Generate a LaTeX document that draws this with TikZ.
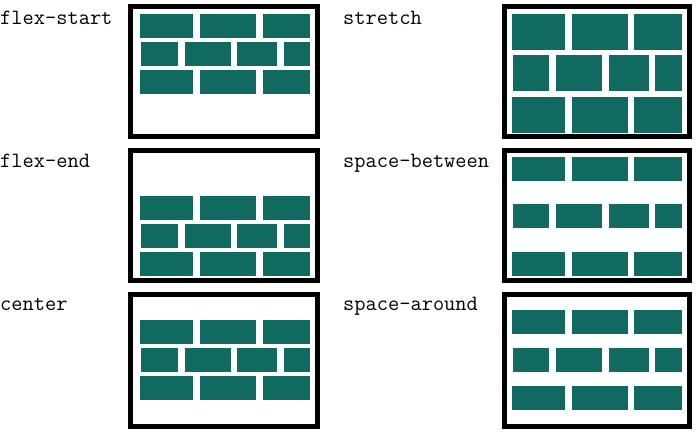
\documentclass[tikz,border=0pt]{standalone}
\usepackage{fontspec}
\definecolor{teal1}{RGB}{16,106,96}
\tikzset{
  brick/.style={fill=teal1},
  frame/.style={draw=black,line width=5pt},
  lbl/.style={anchor=base west,inner sep=0pt,font=\ttfamily\fontsize{21.8}{22}\selectfont}
}
\newcommand\rowL[3]{% y1 y2 type
  \ifnum#3=1
    \foreach \a/\b in {140/193,200/256,263/310} \fill[brick] (\a,#1) rectangle (\b,#2);
  \else
    \foreach \a/\b in {141/178,185/231,237/277,284/310} \fill[brick] (\a,#1) rectangle (\b,#2);
  \fi}
\newcommand\rowR[3]{%
  \ifnum#3=1
    \foreach \a/\b in {512/565,572/628,634/682} \fill[brick] (\a,#1) rectangle (\b,#2);
  \else
    \foreach \a/\b in {513/549,556/602,609/649,655/682} \fill[brick] (\a,#1) rectangle (\b,#2);
  \fi}
\begin{document}
\begin{tikzpicture}[x=1pt,y=-1pt]
\useasboundingbox[fill=white] (0,0) rectangle (697,434);
% labels
\node[lbl] (l1) at (0,24) {flex-start};
\node[lbl] (l2) at (0,167) {flex-end};
\node[lbl] (l3) at (0,310) {center};
\node[lbl] (r1) at (343,24) {stretch};
\node[lbl] (r2) at (343,167) {space-between};
\node[lbl] (r3) at (343,310) {space-around};
% frames
\draw[frame] (130.5,6.5) rectangle (317.5,136.5);
\draw[frame] (130.5,150.5) rectangle (317.5,280.5);
\draw[frame] (130.5,294.5) rectangle (317.5,426.5);
\draw[frame] (504.5,6.5) rectangle (689.5,136.5);
\draw[frame] (504.5,150.5) rectangle (689.5,280.5);
\draw[frame] (504.5,294.5) rectangle (689.5,426.5);
% flex-start
\rowL{14}{38}{1}\rowL{42}{66}{2}\rowL{70}{94}{1}
% flex-end
\rowL{196}{220}{1}\rowL{224}{248}{2}\rowL{252}{276}{1}
% center
\rowL{320}{344}{1}\rowL{348}{372}{2}\rowL{376}{400}{1}
% stretch
\rowR{14}{50}{1}\rowR{55}{91}{2}\rowR{97}{133}{1}
% space-between
\rowR{157}{181}{1}\rowR{204}{228}{2}\rowR{252}{276}{1}
% space-around
\rowR{310}{334}{1}\rowR{348}{372}{2}\rowR{386}{410}{1}
\end{tikzpicture}
\end{document}
